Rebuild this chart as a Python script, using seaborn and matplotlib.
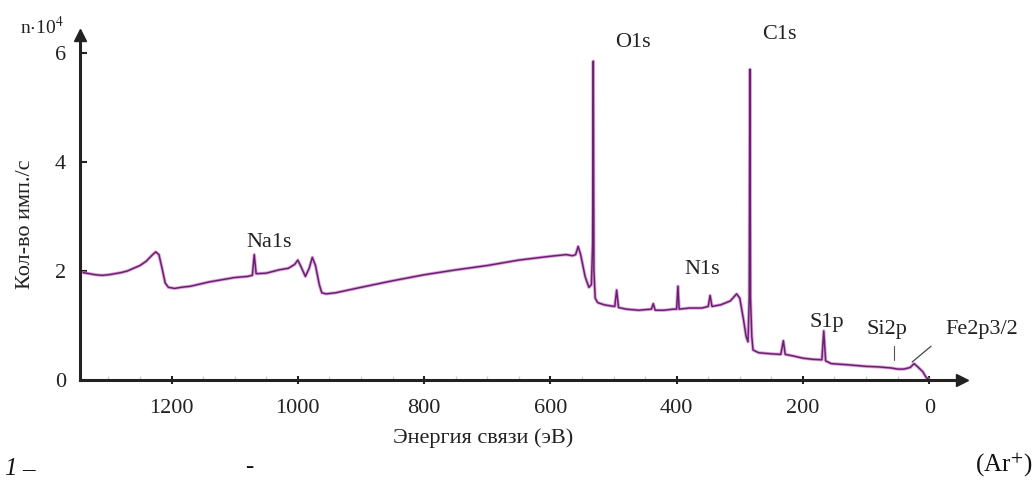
import numpy as np
import pandas as pd
import matplotlib
matplotlib.use("Agg")
import matplotlib.pyplot as plt
import seaborn as sns

# Binding energy (eV) and counts (x10^4 counts/s)
energy = [1340, 1330, 1320, 1310, 1300, 1290, 1280, 1270, 1260, 1250, 1240, 1230, 1225, 1220,
          1215, 1210, 1205, 1195, 1185, 1170, 1155, 1140, 1120, 1100, 1080, 1072, 1069, 1066,
          1050, 1030, 1015, 1005, 1000, 995, 988, 982, 977, 972, 966, 962, 955, 940, 900, 850,
          800, 750, 700, 650, 600, 575, 565, 560, 556, 552, 545, 539, 535, 533, 532, 531, 529,
          525, 515, 505, 498, 495, 492, 480, 460, 440, 437, 434, 420, 405, 400, 398, 396, 380,
          360, 350, 347, 344, 330, 315, 305, 300, 297, 294, 290, 287, 285, 284, 283, 281, 279,
          270, 250, 235, 231, 228, 215, 200, 185, 170, 167, 164, 155, 130, 100, 80, 60, 50, 40,
          30, 24, 18, 10, 5, 0]
counts = [1.97, 1.95, 1.93, 1.92, 1.93, 1.95, 1.97, 2.00, 2.05, 2.10, 2.18, 2.30, 2.35, 2.30,
          2.05, 1.78, 1.70, 1.68, 1.70, 1.72, 1.76, 1.80, 1.84, 1.88, 1.90, 1.92, 2.30, 1.95,
          1.96, 2.02, 2.05, 2.12, 2.20, 2.08, 1.90, 2.05, 2.25, 2.10, 1.75, 1.60, 1.58, 1.60,
          1.70, 1.82, 1.93, 2.02, 2.10, 2.20, 2.27, 2.30, 2.28, 2.30, 2.45, 2.30, 1.90, 1.70,
          1.75, 2.50, 5.85, 2.00, 1.50, 1.42, 1.38, 1.36, 1.35, 1.65, 1.33, 1.30, 1.28, 1.30,
          1.40, 1.28, 1.28, 1.30, 1.30, 1.72, 1.30, 1.32, 1.32, 1.35, 1.55, 1.35, 1.38, 1.45,
          1.58, 1.50, 1.30, 1.10, 0.80, 0.70, 1.50, 5.70, 1.50, 0.80, 0.55, 0.50, 0.48, 0.47,
          0.72, 0.47, 0.44, 0.40, 0.38, 0.37, 0.90, 0.35, 0.30, 0.28, 0.25, 0.24, 0.22, 0.20,
          0.20, 0.23, 0.30, 0.24, 0.15, 0.05, 0.00]

x_ticks = [1200, 1000, 800, 600, 400, 200, 0]
y_ticks = [0, 2, 4, 6]

peak_labels = ["O1s", "C1s", "Na1s", "N1s", "S1p", "Si2p", "Fe2p3/2"]
peak_label_pos = [(470, 6.2), (238, 6.33), (1046, 2.53), (360, 2.02), (162, 1.06), (67, 0.92), (-84, 0.92)]

df = pd.DataFrame({"energy": energy, "counts": counts})

sns.set_theme(style="white")
plt.rcParams["font.family"] = ["Liberation Serif", "DejaVu Serif"]
plt.rcParams["mathtext.fontset"] = "stix"

FS = 16

fig = plt.figure(figsize=(10.36, 4.84), dpi=100)
ax = fig.add_axes([0.0772, 0.2149, 0.8514, 0.7128])

sns.lineplot(data=df, x="energy", y="counts", sort=False, estimator=None,
             color="#d48ad0", linewidth=2.4, alpha=0.75, ax=ax)
sns.lineplot(data=df, x="energy", y="counts", sort=False, estimator=None,
             color="#6a2070", linewidth=1.1, ax=ax)

ax.set_xlim(1345, -52)
ax.set_ylim(0, 6.33)

for s in ["top", "right"]:
    ax.spines[s].set_visible(False)
for s in ["left", "bottom"]:
    ax.spines[s].set_color("#222222")
    ax.spines[s].set_linewidth(2.2)

ax.plot(1, 0, ">", color="#222222", markersize=9, transform=ax.transAxes, clip_on=False)
ax.plot(0, 1, "^", color="#222222", markersize=9, transform=ax.transAxes, clip_on=False)

ax.set_xticks(x_ticks)
ax.set_xticklabels([str(t) for t in x_ticks])
ax.set_xticks(np.arange(1300, -1, -50), minor=True)
ax.set_yticks(y_ticks)
ax.set_yticklabels([str(t) for t in y_ticks])
ax.tick_params(axis="x", which="major", direction="inout", length=6, width=1.5,
               color="#222222", labelsize=FS, pad=11, labelcolor="#222222")
ax.tick_params(axis="x", which="minor", direction="in", length=3, width=1, color="#cccccc")
ax.tick_params(axis="y", which="major", direction="in", length=5, width=1.5,
               color="#222222", labelsize=FS, pad=10, labelcolor="#222222")
ax.tick_params(bottom=True, left=True, which="both")
ax.tick_params(axis="y", which="minor", left=False)

ax.set_xlabel("Энергия связи (эВ)", fontsize=FS, color="#222222")
ax.xaxis.set_label_coords(0.457, -0.139)
ax.set_ylabel("Кол-во имп./с", fontsize=FS, color="#222222")
ax.yaxis.set_label_coords(-0.062, 0.45)
ax.yaxis.label.set_va("center")
ax.grid(False)

for lab, (px, py) in zip(peak_labels, peak_label_pos):
    ax.text(px, py, lab, fontsize=FS, color="#222222", ha="center", va="center", clip_on=False)

# leader lines for Si2p and Fe2p3/2
ax.plot([55, 55], [0.37, 0.62], color="#555555", linewidth=0.8)
ax.plot([27, -3], [0.33, 0.62], color="#444444", linewidth=0.9, clip_on=False)

fig.text(0.019, 0.945, r"n$\cdot$10$^{4}$", fontsize=14, color="#222222", ha="left", va="center")

fig.text(0.004, 0.03, "1", fontsize=18, style="italic", color="#111111", ha="left", va="center")
fig.text(0.021, 0.03, "–", fontsize=18, color="#111111", ha="left", va="center")
fig.text(0.237, 0.035, "-", fontsize=18, color="#111111", ha="left", va="center")
fig.text(0.997, 0.04, r"(Ar$^{+}$)", fontsize=18, color="#111111", ha="right", va="center")

fig.savefig("out.png", dpi=100)
